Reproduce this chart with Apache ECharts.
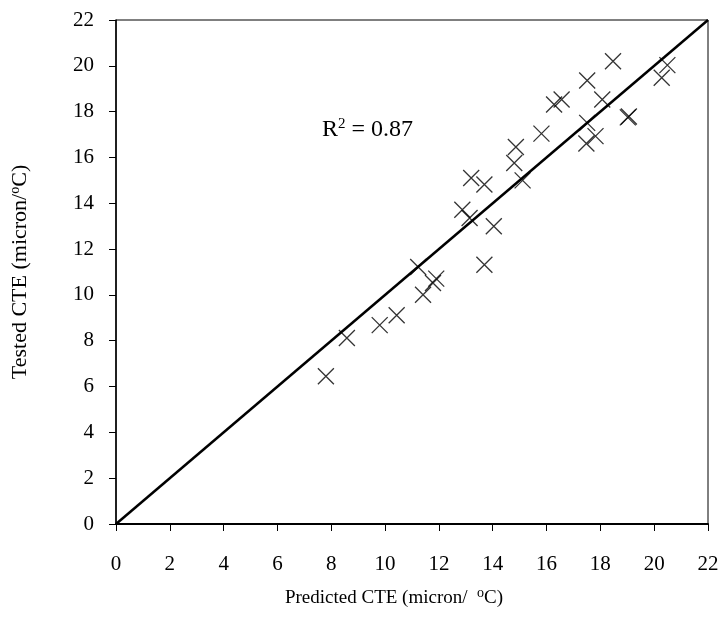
<!DOCTYPE html>
<html>
<head>
<meta charset="utf-8">
<script src="https://cdn.jsdelivr.net/npm/echarts@6/dist/echarts.min.js"></script>
<style>html,body{margin:0;padding:0;background:#fff}#c{width:724px;height:627px}</style>
</head>
<body>
<div id="c"></div>
<script>
const predicted = [7.80, 8.58, 9.80, 10.43, 11.41, 11.78, 11.90, 11.23, 13.69, 14.04, 12.87, 13.14, 13.20, 13.69, 15.11, 14.80, 14.86, 15.81, 16.28, 16.56, 17.51, 18.47, 18.07, 17.51, 17.82, 17.48, 19.02, 19.06, 20.49, 20.28];
const tested    = [6.45, 8.12, 8.68, 9.11, 10.01, 10.52, 10.71, 11.22, 11.32, 13.00, 13.72, 13.36, 15.10, 14.82, 15.00, 15.76, 16.46, 17.04, 18.31, 18.53, 19.36, 20.20, 18.53, 17.51, 16.93, 16.61, 17.75, 17.79, 20.03, 19.48];
const fitLine = [[0, 0], [22, 22]];
const axisMin = 0, axisMax = 22, axisStep = 2;
const r2Label = '0.87';

const points = predicted.map((p, i) => [p, tested[i]]);
const font = 'Liberation Serif';
const supStyle = {fontSize: 14, verticalAlign: 'top', padding: [0, 0, 10, 0], fontFamily: font, color: '#000'};
const chart = echarts.init(document.getElementById('c'));
chart.setOption({
  backgroundColor: '#fff',
  animation: false,
  grid: {left: 112, right: 16, top: 20, bottom: 103, show: true, borderColor: '#000', borderWidth: 1},
  xAxis: {
    type: 'value', min: axisMin, max: axisMax, interval: axisStep,
    splitLine: {show: false},
    axisLine: {lineStyle: {color: '#000', width: 2}},
    axisTick: {length: 7, lineStyle: {color: '#000', width: 1}},
    axisLabel: {color: '#000', fontFamily: font, fontSize: 21, margin: 30},
    name: 'Predicted CTE (micron/  {sup|o}C)', nameLocation: 'middle', nameGap: 62,
    nameTextStyle: {color: '#000', fontFamily: font, fontSize: 19, padding: [0, 36, 0, 0], rich: {sup: supStyle}}
  },
  yAxis: {
    type: 'value', min: axisMin, max: axisMax, interval: axisStep,
    splitLine: {show: false},
    axisLine: {lineStyle: {color: '#000', width: 1.5}},
    axisTick: {length: 7, lineStyle: {color: '#000', width: 1}},
    axisLabel: {color: '#000', fontFamily: font, fontSize: 21, margin: 22},
    name: 'Tested CTE (micron/{sup|o}C)', nameLocation: 'middle', nameGap: 84,
    nameTextStyle: {color: '#000', fontFamily: font, fontSize: 22, rich: {sup: supStyle}}
  },
  graphic: [{
    type: 'text', left: 322, top: 117,
    style: {
      text: 'R{sup|2} = ' + r2Label,
      fontFamily: font, fontSize: 24, fill: '#000',
      rich: {sup: {fontSize: 15, verticalAlign: 'top', padding: [0, 0, 11, 0], fontFamily: font, fill: '#000'}}
    }
  }],
  series: [
    {
      type: 'line', data: fitLine, symbol: 'none',
      lineStyle: {color: '#000', width: 2.5}, z: 3
    },
    {
      type: 'scatter', data: points,
      symbol: 'path://M0,0L10,10M10,0L0,10', symbolSize: 16,
      itemStyle: {color: 'none', borderColor: '#000', borderWidth: 1.3}, z: 4
    }
  ]
});
</script>
</body>
</html>
